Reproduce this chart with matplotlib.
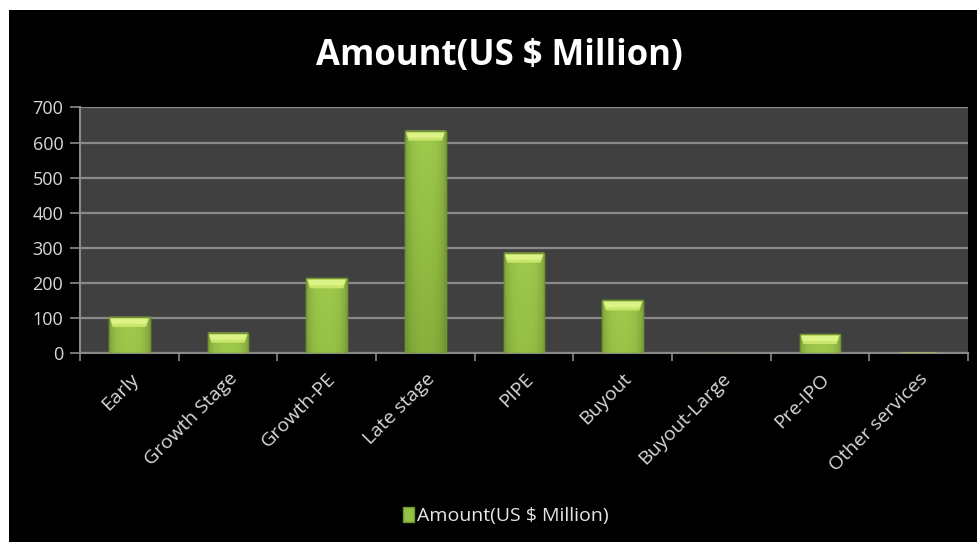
import matplotlib
matplotlib.use("Agg")
import matplotlib.pyplot as plt
import numpy as np
from matplotlib.patches import Rectangle, Polygon

categories = ["Early", "Growth Stage", "Growth-PE", "Late stage", "PIPE",
              "Buyout", "Buyout-Large", "Pre-IPO", "Other services"]
amounts = [103, 58, 213, 634, 286, 150, 0, 54, 1]
y_ticks = [0, 100, 200, 300, 400, 500, 600, 700]
title = "Amount(US $ Million)"
series_name = "Amount(US $ Million)"

W, H = 978, 542
fig = plt.figure(figsize=(W / 100, H / 100), dpi=100, facecolor="white")
fig.patches.append(Rectangle((9 / W, 0), 1 - 9 / W, 1 - 10 / H, transform=fig.transFigure,
                             facecolor="black", edgecolor="none", zorder=-10))

ax = fig.add_axes([80 / W, 1 - 353 / H, (968 - 80) / W, (353 - 107.5) / H])
ax.set_facecolor("#404040")

x = np.arange(len(categories))
bw = 0.41
bars = ax.bar(x, amounts, width=bw, color="#95c244", edgecolor="#6f9430",
              linewidth=1.0, zorder=3)

ax.set_xlim(-0.5, len(categories) - 0.5)
ax.set_ylim(0, 700)
ax.set_yticks(y_ticks)
ax.set_yticklabels([str(v) for v in y_ticks])
ax.yaxis.grid(True, color="#8a8a8a", linewidth=1.6, zorder=0)
ax.set_axisbelow(True)

# gradient fill on bars (horizontal: darker edges; vertical: darker toward base)
hx = np.linspace(0, 1, 64)
edge = 1 - 0.18 * (np.abs(hx - 0.5) * 2) ** 3
vy = np.linspace(0, 1, 64).reshape(-1, 1)
top_rgb = np.array([0x9f, 0xca, 0x4c]) / 255
bot_rgb = np.array([0x86, 0xae, 0x3a]) / 255
fig.canvas.draw()
px_per_unit = ax.get_window_extent().height / 700.0
dy = 10 / px_per_unit
dx = 0.09 * bw
for b, v in zip(bars, amounts):
    if v <= 0:
        continue
    x0, w, h = b.get_x(), b.get_width(), b.get_height()
    frac = min(1.0, h * px_per_unit / 240.0)
    col = top_rgb[None, None, :] * (1 - vy[..., None] * frac) + bot_rgb[None, None, :] * (vy[..., None] * frac)
    img = np.clip(col * edge[None, :, None], 0, 1)
    im = ax.imshow(img, extent=[x0, x0 + w, 0, h], aspect="auto", origin="upper",
                   zorder=3.5, interpolation="bilinear")
    im.set_clip_path(b)
    d = min(dy, h)
    bevel = Polygon([(x0, h), (x0 + w, h), (x0 + w - dx, h - d), (x0 + dx, h - d)],
                    closed=True, facecolor="#c9e66a", edgecolor="none", zorder=4)
    ax.add_patch(bevel)
    bevel2 = Polygon([(x0 + dx * 0.4, h - d * 0.15), (x0 + w - dx * 0.4, h - d * 0.15),
                      (x0 + w - dx * 0.9, h - d * 0.7), (x0 + dx * 0.9, h - d * 0.7)],
                     closed=True, facecolor="#dcf388", edgecolor="none", zorder=4.1)
    ax.add_patch(bevel2)
    ax.add_patch(Rectangle((x0, 0), w, h, facecolor="none", edgecolor="#6f9430",
                           linewidth=1.0, zorder=4.5))
ax.set_xlim(-0.5, len(categories) - 0.5)
ax.set_ylim(0, 700)

ax.set_xticks(np.arange(len(categories) + 1) - 0.5, minor=False)
ax.set_xticklabels([])
ax.set_xticks(x, minor=True)
ax.set_xticklabels(categories, minor=True, rotation=45, ha="right",
                   rotation_mode="anchor", fontsize=14, color="#d9d9d9", family="Open Sans")
ax.tick_params(axis="x", which="minor", length=0, pad=12)
ax.tick_params(axis="x", which="major", length=6, color="#8a8a8a", width=1.2)
ax.tick_params(axis="y", length=7, color="#8a8a8a", width=1.2, labelsize=13,
               labelcolor="#d9d9d9", pad=5)
for lab in ax.get_yticklabels():
    lab.set_family("Open Sans")

for s in ["top", "right"]:
    ax.spines[s].set_visible(False)
for s in ["left", "bottom"]:
    ax.spines[s].set_color("#8a8a8a")
    ax.spines[s].set_linewidth(1.5)

fig.text(0.5 + 10 / W, 1 - 56 / H, title, ha="center", va="center", color="white",
         fontsize=25, fontweight="bold", family="Open Sans")

leg = fig.legend([bars[0]], [series_name], loc="center", bbox_to_anchor=(506 / W, 1 - 516 / H),
                 frameon=False, handlelength=0.55, handleheight=0.8, handletextpad=0.2,
                 prop={"family": "Open Sans", "size": 14})
for t in leg.get_texts():
    t.set_color("#e6e6e6")

fig.savefig("out.png", dpi=100, facecolor="white")
